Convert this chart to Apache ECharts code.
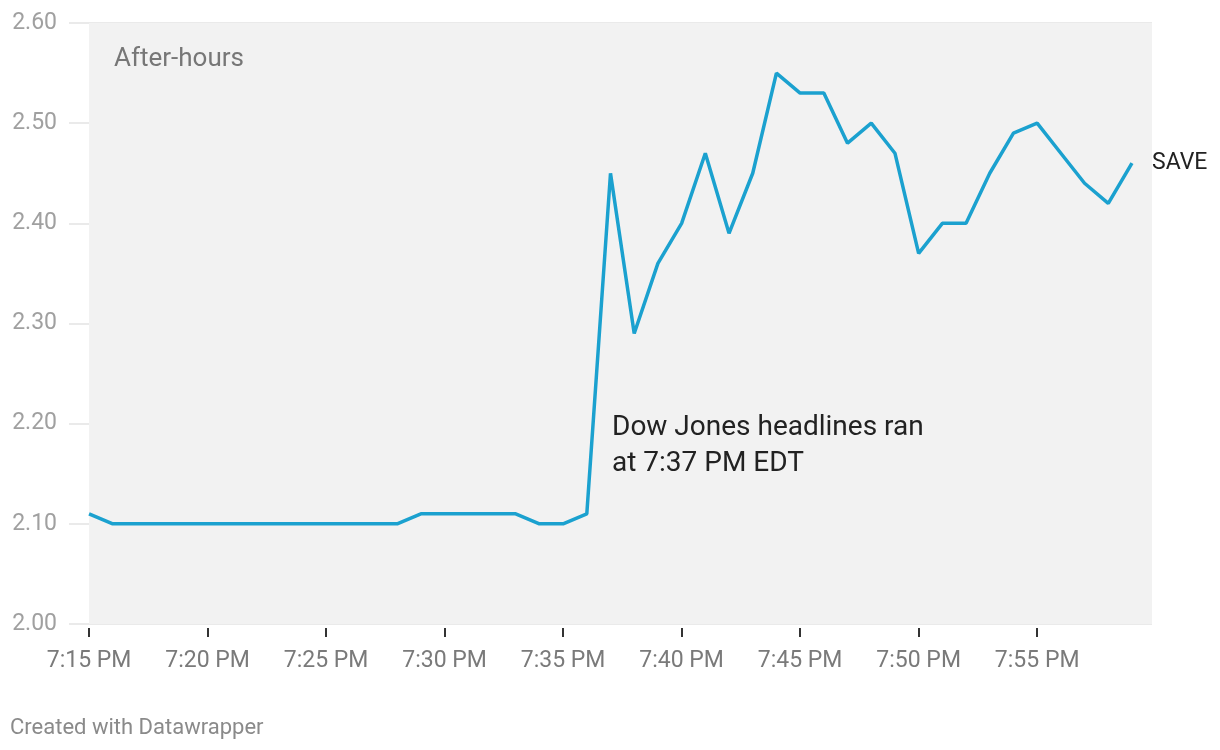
<!DOCTYPE html>
<html>
<head>
<meta charset="utf-8">
<script src="https://cdn.jsdelivr.net/npm/echarts@6/dist/echarts.min.js"></script>
<style>
html,body{margin:0;padding:0;background:#fff;}
#chart{width:1220px;height:750px;}
</style>
</head>
<body>
<div id="chart"></div>
<script>
// minutes after 7:15 PM, one value per minute (7:15 .. 7:59)
const times = ['7:15','7:16','7:17','7:18','7:19','7:20','7:21','7:22','7:23','7:24','7:25','7:26','7:27','7:28','7:29','7:30','7:31','7:32','7:33','7:34','7:35','7:36','7:37','7:38','7:39','7:40','7:41','7:42','7:43','7:44','7:45','7:46','7:47','7:48','7:49','7:50','7:51','7:52','7:53','7:54','7:55','7:56','7:57','7:58','7:59'];
const saveValues = [2.11,2.10,2.10,2.10,2.10,2.10,2.10,2.10,2.10,2.10,2.10,2.10,2.10,2.10,2.11,2.11,2.11,2.11,2.11,2.10,2.10,2.11,2.45,2.29,2.36,2.40,2.47,2.39,2.45,2.55,2.53,2.53,2.48,2.50,2.47,2.37,2.40,2.40,2.45,2.49,2.50,2.47,2.44,2.42,2.46];
const tickMinutes = [0,5,10,15,20,25,30,35,40];
const tickLabels = ['7:15 PM','7:20 PM','7:25 PM','7:30 PM','7:35 PM','7:40 PM','7:45 PM','7:50 PM','7:55 PM'];
const yTicks = [2.0,2.1,2.2,2.3,2.4,2.5,2.6];
const seriesName = 'SAVE';

const chart = echarts.init(document.getElementById('chart'), null, {renderer:'canvas'});
const xMin = -0.845, xMax = times.length - 1 + 0.845;
const font = 'Roboto, "Noto Sans", sans-serif';

chart.setOption({
  animation: false,
  backgroundColor: '#ffffff',
  textStyle: {fontFamily: font},
  grid: {left: 69, right: 68, top: 23, bottom: 126, containLabel: false},
  xAxis: {
    type: 'value', min: xMin, max: xMax,
    offset: 4,
    axisLine: {show: false},
    splitLine: {show: false},
    axisTick: {show: true, customValues: tickMinutes, length: 9, lineStyle: {color: '#333', width: 2}},
    axisLabel: {
      customValues: tickMinutes, margin: 22, fontSize: 23, color: '#7a7a7a', fontFamily: font,
      formatter: v => tickLabels[tickMinutes.indexOf(Math.round(v))] || ''
    }
  },
  yAxis: {
    type: 'value', min: 2.0, max: 2.6, interval: 0.1,
    z: 1,
    axisLine: {show: false}, axisTick: {show: false},
    splitLine: {show: true, lineStyle: {color: '#e3e3e3', width: 1.5}},
    axisLabel: {margin: 12, fontSize: 23, color: '#a0a0a0', fontFamily: font,
      formatter: v => v.toFixed(2)}
  },
  graphic: [
    {type: 'text', left: 114, top: 46, z: 10, style: {text: 'After-hours', fontSize: 26, fill: '#777', fontFamily: font}},
    {type: 'text', left: 612, top: 410, z: 10, style: {text: 'Dow Jones headlines ran\nat 7:37 PM EDT', fontSize: 28, lineHeight: 36, fill: '#222', fontFamily: font}},
    {type: 'text', left: 10, top: 717, z: 10, style: {text: 'Created with Datawrapper', fontSize: 22, fill: '#8a8a8a', fontFamily: font}}
  ],
  series: [
    {
      type: 'line', data: [], z: 0, silent: true,
      markArea: {
        silent: true,
        itemStyle: {color: '#f2f2f2'},
        data: [[{xAxis: 0}, {xAxis: xMax}]]
      }
    },
    {
      name: seriesName,
      type: 'line', z: 3,
      data: saveValues.map((v, i) => [i, v]),
      showSymbol: false, symbol: 'none',
      lineStyle: {color: '#1ba1cf', width: 3.5},
      itemStyle: {color: '#1ba1cf'},
      endLabel: {show: true, formatter: seriesName, distance: 20, fontSize: 23, color: '#222', fontFamily: font}
    }
  ]
});
</script>
</body>
</html>
